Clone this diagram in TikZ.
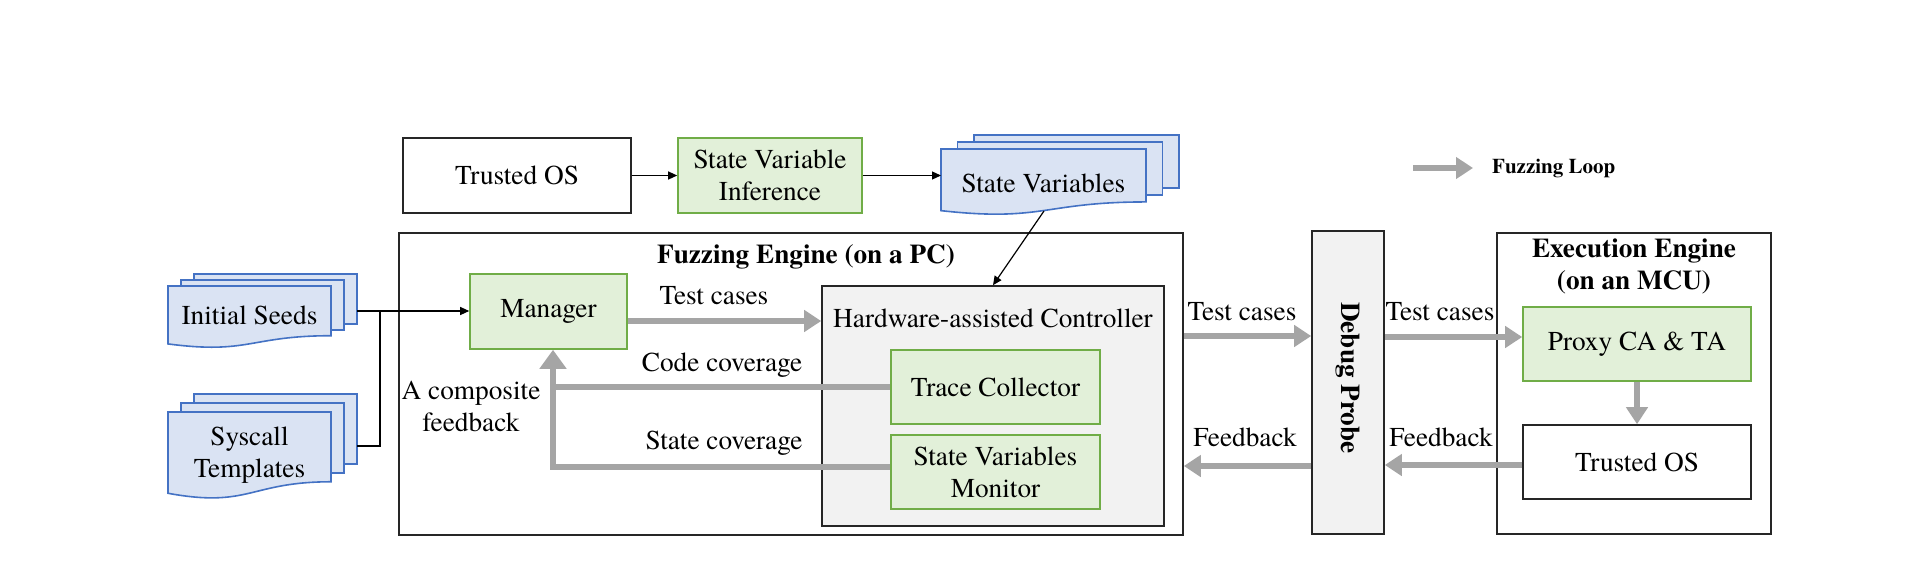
\documentclass[tikz,border=0pt]{standalone}
\usepackage{fontspec}
\setmainfont{texgyretermes}[Extension=.otf, UprightFont=*-regular, BoldFont=*-bold, ItalicFont=*-italic, BoldItalicFont=*-bolditalic]
\usetikzlibrary{arrows.meta}
\definecolor{gfill}{HTML}{E2F0D9}
\definecolor{gdraw}{HTML}{70AD47}
\definecolor{bfill}{HTML}{DAE3F3}
\definecolor{bdraw}{HTML}{4472C4}
\definecolor{lgray}{HTML}{F2F2F2}
\definecolor{agray}{HTML}{A5A5A5}
\definecolor{edge}{HTML}{262626}
\tikzset{
  base/.style={inner sep=0pt, align=center, font=\fontsize{27.3}{32}\selectfont},
  plainbox/.style={base, draw=edge, line width=1.6pt, fill=white},
  greenbox/.style={base, draw=gdraw, line width=1.6pt, fill=gfill},
  graybox/.style={base, draw=edge, line width=1.6pt, fill=lgray},
  lbl/.style={base},
  ttl/.style={base, font=\fontsize{27.2}{32}\selectfont\bfseries},
  loop/.style={draw=agray, line width=6.5pt, -{Triangle[width=21pt,length=17pt]}},
  bigloop/.style={draw=agray, line width=6.5pt, -{Triangle[width=26pt,length=19pt]}},
  loopline/.style={draw=agray, line width=6.5pt},
  thinarrow/.style={draw=black, line width=1.2pt, -{Triangle[width=8pt,length=9pt]}},
  thinline/.style={draw=black, line width=1.2pt},
  docshape/.style={draw=bdraw, line width=1.6pt, fill=bfill},
}
% #1 name, #2 left, #3 top, #4 width, #5 height, #6 dx, #7 dy, #8 text, #9 text position factor
\newcommand{\mdoc}[9]{%
  \path[docshape] ({#2+2*#6},{#3-2*#7}) rectangle ({#2+2*#6+#4},{#3-2*#7+0.802*#5});
  \path[docshape] ({#2+#6},{#3-#7}) rectangle ({#2+#6+#4},{#3-#7+0.802*#5});
  \path[docshape] (#2,#3) -- ({#2+#4},#3) -- ({#2+#4},{#3+0.802*#5})
     .. controls ({#2+0.5*#4},{#3+0.802*#5}) and ({#2+0.5*#4},{#3+1.107*#5}) .. (#2,{#3+0.934*#5}) -- cycle;
  \node[lbl] (#1) at ({#2+0.5*#4},{#3+#9*#5}) {#8};
}
\begin{document}
\begin{tikzpicture}[x=1pt,y=-1pt]
\useasboundingbox[fill=white] (0,0) rectangle (1918,560);

% top row
\node[plainbox, minimum width=228pt, minimum height=75pt] (tos) at (517,175.5) {Trusted OS};
\node[greenbox, minimum width=184pt, minimum height=75pt] (svi) at (770,175.5) {State Variable\\Inference};
\mdoc{sv}{941}{149}{205}{66}{16.5}{7}{State Variables}{0.52}
\coordinate (svin) at (941,175.5);
\coordinate (svout) at (1044,211);

% legend
\coordinate (lga) at (1413,168);
\coordinate (lgb) at (1473,168);
\draw[loop] (lga) -- (lgb);
\node[base, anchor=west, font=\fontsize{21}{24}\selectfont\bfseries] (lgt) at (1492,168) {Fuzzing Loop};

% input documents
\mdoc{is}{168}{286}{163}{62}{13}{6}{Initial Seeds}{0.48}
\mdoc{st}{168}{412}{163}{87}{13}{9}{Syscall\\Templates}{0.49}
\coordinate (isout) at (357,311);
\coordinate (stout) at (357,446);
\coordinate (junc) at (380,311);

% fuzzing engine
\node[plainbox, minimum width=784pt, minimum height=302pt] (fe) at (791,384) {};
\node[ttl] (fet) at (806,257) {Fuzzing Engine (on a PC)};
\node[greenbox, minimum width=157pt, minimum height=75pt] (mgr) at (548.5,311.5) {Manager};
\node[graybox, minimum width=342pt, minimum height=240pt] (hac) at (993,406) {};
\node[base] (hact) at (993,318) {Hardware-assisted Controller};
\node[greenbox, minimum width=209pt, minimum height=74pt] (tc) at (995.5,387) {Trace Collector};
\node[greenbox, minimum width=209pt, minimum height=74pt] (svm) at (995.5,472) {State Variables\\Monitor};

% debug probe
\node[graybox, minimum width=72pt, minimum height=303pt] (dbg) at (1348,382.5) {};
\node[ttl, rotate=-90] (dbgt) at (1348,378) {Debug Probe};

% execution engine
\node[plainbox, minimum width=274pt, minimum height=301pt] (ee) at (1634,383.5) {};
\node[ttl] (eet) at (1634,266.5) {Execution Engine\\(on an MCU)};
\node[greenbox, minimum width=228pt, minimum height=74pt] (prx) at (1637,344) {Proxy CA \& TA};
\node[plainbox, minimum width=228pt, minimum height=74pt] (tosr) at (1637,462) {Trusted OS};

% thin black connectors
\draw[thinarrow] (tos.east) -- (svi.west);
\draw[thinarrow] (svi.east) -- (svin);
\draw[thinarrow] (svout) -- (993,0 |- hac.north);
\draw[thinarrow] (isout) -- (isout -| mgr.west);
\draw[thinline] (stout) -| (junc);

% fuzzing loop connectors
\coordinate (up) at (553,0 |- mgr.south);
\draw[loop] (mgr.east |- 0,321) -- (hac.west |- 0,321);
\draw[loopline] (tc.west) -- (tc.west -| up);
\draw[bigloop] (svm.west |- 0,467) -| (up);
\draw[loop] (fe.east |- 0,336) -- (dbg.west |- 0,336);
\draw[loop] (dbg.west |- 0,466) -- (fe.east |- 0,466);
\draw[loop] (dbg.east |- 0,337) -- (prx.west |- 0,337);
\draw[loop] (tosr.west |- 0,465) -- (dbg.east |- 0,465);
\draw[loop] (prx.south) -- (tosr.north);

% labels
\node[lbl] (l1) at (714,296) {Test cases};
\node[lbl] (l2) at (722,365) {Code coverage};
\node[lbl] (l3) at (724,443) {State coverage};
\node[lbl] (l4) at (471,406) {A composite\\feedback};
\node[lbl] (l5) at (1242,312) {Test cases};
\node[lbl] (l6) at (1245,437) {Feedback};
\node[lbl] (l7) at (1440,312) {Test cases};
\node[lbl] (l8) at (1441,437) {Feedback};
\end{tikzpicture}
\end{document}
